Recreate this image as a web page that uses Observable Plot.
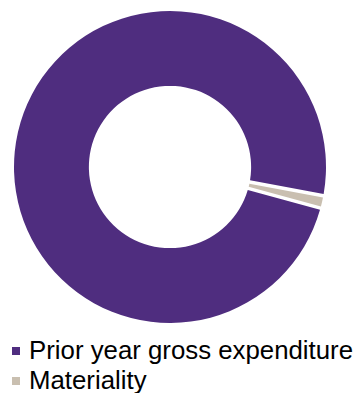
<!DOCTYPE html>
<html><head><meta charset="utf-8">
<script src="https://cdn.jsdelivr.net/npm/d3@7"></script>
<script src="https://cdn.jsdelivr.net/npm/@observablehq/plot@0.6"></script>
<style>
body{margin:0;background:#fff;font-family:"Liberation Sans",Arial,sans-serif;}
#legend{margin:0;padding:0;}
.item{position:relative;height:30px;line-height:30px;font-size:25.8px;color:#000;padding-left:29px;white-space:nowrap;}
.sw{position:absolute;left:12px;top:11.5px;width:8px;height:8px;}
svg{display:block;}
</style></head>
<body><div id="chart"></div><div id="legend"></div>
<script>
const categories = ["Prior year gross expenditure", "Materiality"];
const values = [98.7, 1.3];
const colors = ["#4F2D7F", "#C9BFB0"];
const startDegrees = 105.3;

const data = categories.map((c, i) => ({category: c, value: values[i]}));
const color = Plot.scale({color: {type: "ordinal", domain: categories, range: colors}});
const xs = Plot.scale({x: {domain: [-1, 1], range: [14, 326]}});
const ys = Plot.scale({y: {domain: [-1, 1], range: [323, 11]}});
const innerRatio = 0.52;

const donut = (index, scales, vals, dims) => {
  const cx = xs.apply(0), cy = ys.apply(0);
  const R = xs.apply(1) - xs.apply(0);
  const pie = d3.pie().sort(null).value(d => d.value)
    .startAngle(startDegrees * Math.PI / 180)
    .endAngle(startDegrees * Math.PI / 180 + 2 * Math.PI);
  const arc = d3.arc().innerRadius(R * innerRatio).outerRadius(R).padRadius(100).padAngle(0.035);
  const g = d3.create("svg:g").attr("transform", `translate(${cx},${cy})`);
  g.selectAll("path").data(pie(data)).join("path")
    .attr("d", arc)
    .attr("fill", d => color.apply(d.data.category));
  return g.node();
};

const chart = Plot.plot({
  width: 356,
  height: 335,
  margin: 0,
  marks: [donut]
});
document.getElementById("chart").appendChild(chart);

const legend = d3.select("#legend");
categories.forEach(c => {
  const it = legend.append("div").attr("class", "item");
  it.append("span").attr("class", "sw").style("background", color.apply(c));
  it.append("span").text(c);
});
</script>
</body></html>
